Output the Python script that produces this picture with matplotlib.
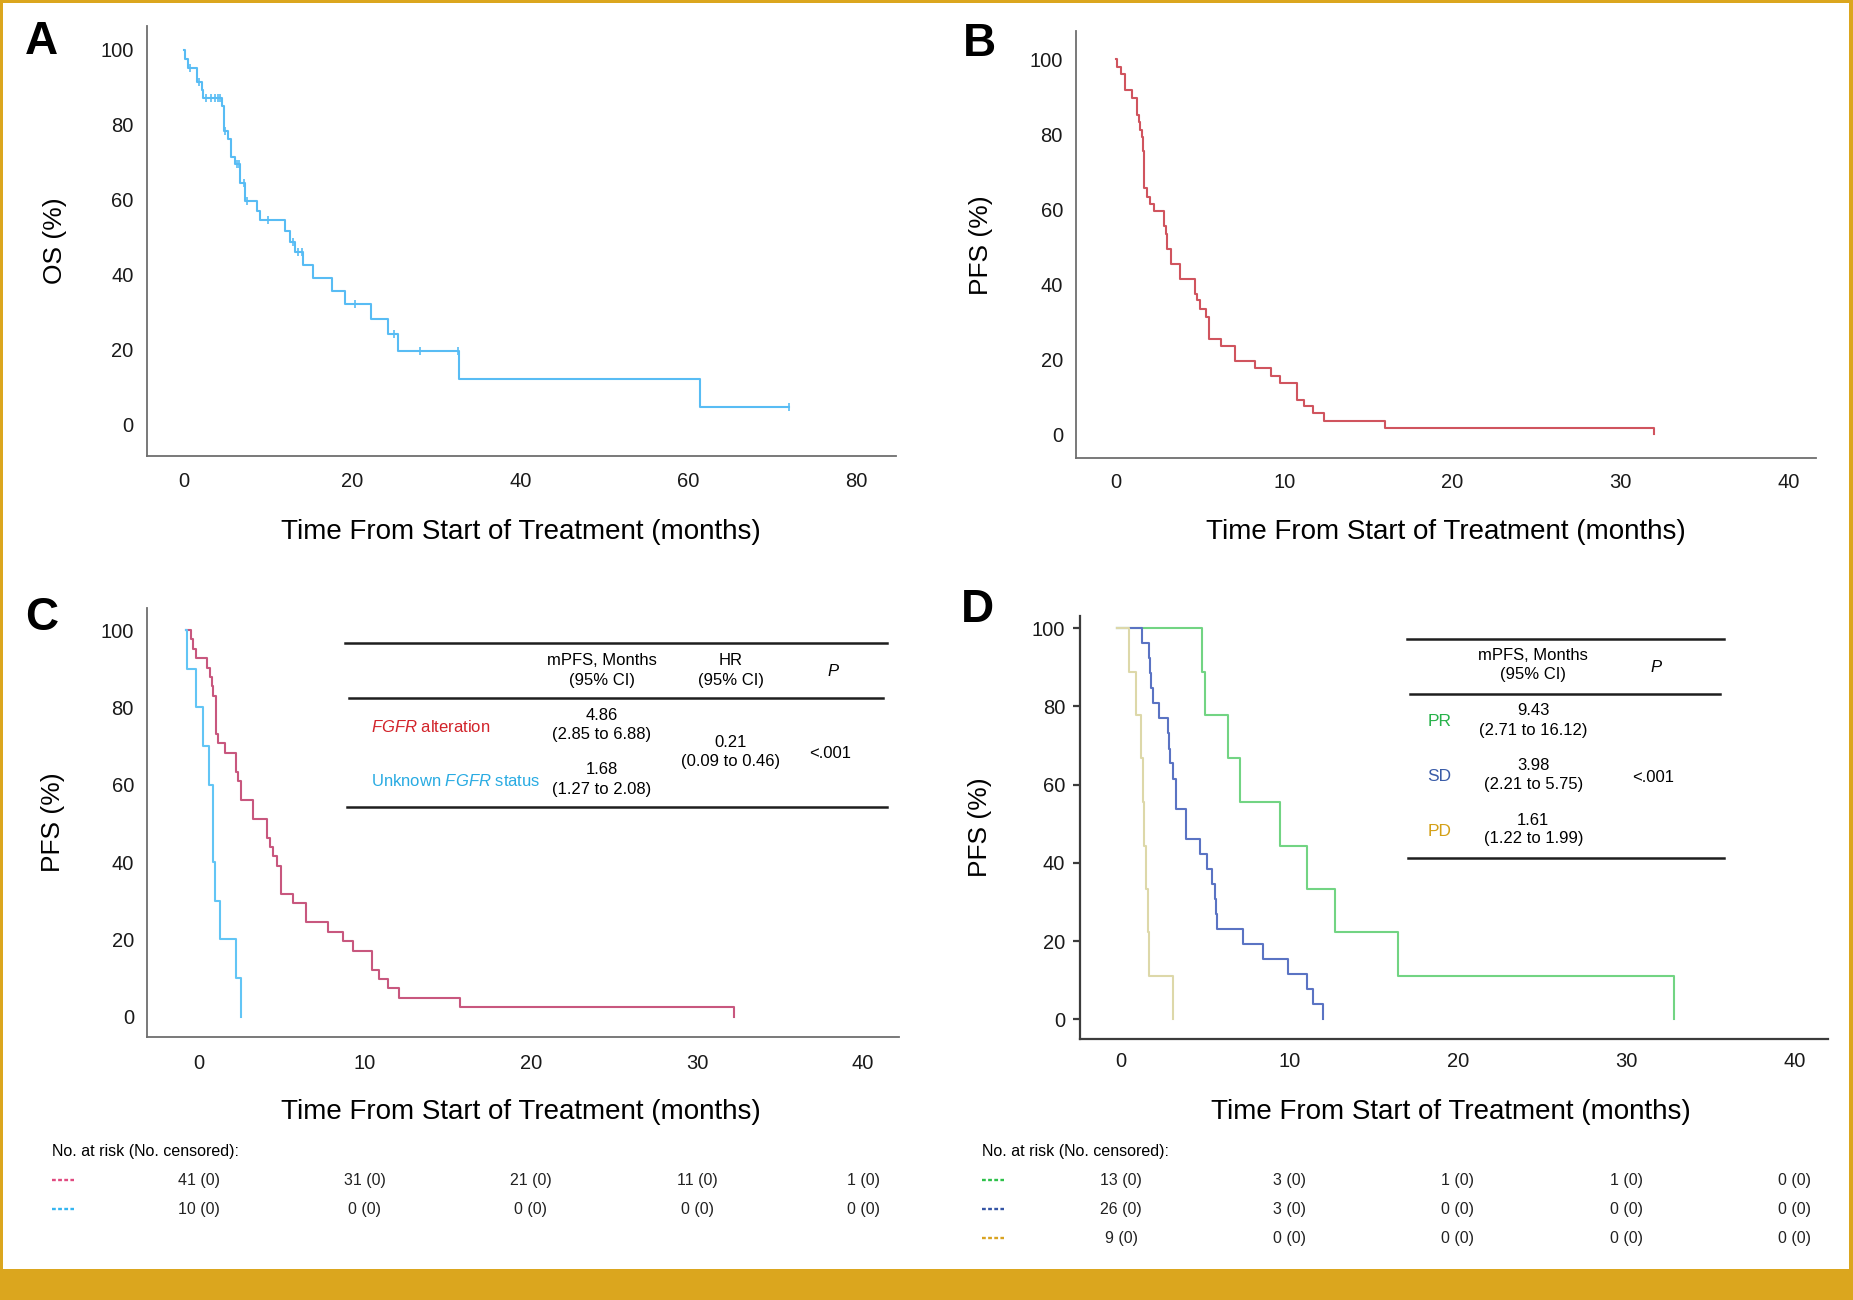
"""
Kaplan-Meier panels A-D (OS and PFS) redrawn with matplotlib
"""

import matplotlib
matplotlib.use("Agg")
import matplotlib.pyplot as plt
import matplotlib.transforms as mtransforms
from matplotlib.lines import Line2D
from matplotlib.patches import Rectangle

################################################################################
# --- DATA (step times in months, survival in %)
################################################################################
# A: overall survival
os_time = [0, 0.12, 0.5, 1.51, 2.1, 2.3, 4.48, 4.8, 5.27, 5.59, 6.06, 6.66,
           7.25, 8.72, 9.04, 12.0, 12.6, 13.2, 14.2, 15.4, 17.6, 19.1, 22.3,
           24.3, 25.5, 32.7, 61.4, 72.0]
os_surv = [100, 97.5, 95.0, 91.4, 89.2, 87.0, 85.0, 78.3, 76.0, 71.4, 69.4,
           64.5, 59.6, 56.9, 54.5, 51.6, 48.7, 46.0, 42.5, 38.9, 35.6, 32.0,
           28.2, 24.2, 19.6, 12.0, 4.5, 4.5]
os_censored = [0.7, 1.8, 2.6, 3.2, 3.7, 4.0, 4.3, 4.87, 6.26, 6.58, 7.13, 7.53,
               10.0, 13.0, 13.6, 14.0, 20.4, 25.0, 28.1, 32.6, 72.0]

# B: progression-free survival, all patients
pfs_time = [0, 0.04, 0.28, 0.54, 0.97, 1.27, 1.39, 1.45, 1.53, 1.59, 1.66,
            1.82, 2.0, 2.26, 2.85, 2.95, 3.05, 3.25, 3.8, 4.69, 4.83, 4.99,
            5.35, 5.55, 6.22, 7.05, 8.26, 9.19, 9.74, 10.77, 11.17, 11.72,
            12.36, 16.0, 32.0]
pfs_surv = [100, 98.0, 96.0, 91.8, 89.8, 85.1, 83.3, 81.1, 79.3, 75.7, 65.7,
            63.2, 61.3, 59.5, 55.5, 53.5, 49.5, 45.5, 41.4, 37.5, 35.9, 33.5,
            31.3, 25.5, 23.5, 19.5, 17.5, 15.5, 13.5, 9.2, 7.5, 5.5, 3.5, 1.5, 0]

# C: PFS by FGFR status
fgfr_time = [0, 0.28, 0.4, 0.6, 1.29, 1.45, 1.55, 1.65, 1.81, 1.95, 2.35, 3.01,
             3.15, 3.29, 4.02, 4.9, 5.06, 5.26, 5.5, 5.72, 6.47, 7.23, 8.57,
             9.48, 10.04, 11.18, 11.59, 12.13, 12.85, 16.5, 33.0]
fgfr_surv = [100, 97.6, 95.1, 92.7, 90.2, 87.8, 85.4, 82.9, 73.2, 70.7, 68.3,
             63.4, 61.0, 56.1, 51.2, 46.3, 43.9, 41.5, 39.0, 31.7, 29.3, 24.4,
             22.0, 19.5, 17.1, 12.2, 9.8, 7.3, 4.9, 2.4, 0]
unknown_time = [0, 0.08, 0.6, 1.04, 1.41, 1.61, 1.62, 1.75, 2.05, 3.01, 3.29]
unknown_surv = [100, 90, 80, 70, 60, 50, 40, 30, 20, 10, 0]

# D: PFS by best response
pr_time = [0, 5.03, 5.23, 6.61, 7.31, 9.69, 11.31, 12.95, 16.66, 33.1]
pr_surv = [100, 88.9, 77.8, 66.7, 55.6, 44.4, 33.3, 22.2, 11.1, 0]
sd_time = [0, 1.47, 1.92, 1.97, 2.02, 2.16, 2.51, 3.05, 3.08, 3.15, 3.31, 3.51,
           3.53, 4.10, 4.12, 4.93, 5.37, 5.62, 5.82, 5.85, 5.92, 7.47, 8.69,
           10.18, 11.27, 11.66, 12.22]
sd_surv = [100, 96.2, 92.3, 88.5, 84.6, 80.8, 76.9, 73.1, 69.2, 65.4, 61.5,
           57.7, 53.8, 50.0, 46.2, 42.3, 38.5, 34.6, 30.8, 26.9, 23.1, 19.2,
           15.4, 11.5, 7.7, 3.8, 0]
pd_time = [0, 0.73, 1.13, 1.41, 1.52, 1.62, 1.70, 1.82, 1.92, 3.31]
pd_surv = [100, 88.9, 77.8, 66.7, 55.6, 44.4, 33.3, 22.2, 11.1, 0]

# number at risk tables
risk_times = [0, 10, 20, 30, 40]
c_risk_fgfr = ["41 (0)", "31 (0)", "21 (0)", "11 (0)", "1 (0)"]
c_risk_unknown = ["10 (0)", "0 (0)", "0 (0)", "0 (0)", "0 (0)"]
d_risk_pr = ["13 (0)", "3 (0)", "1 (0)", "1 (0)", "0 (0)"]
d_risk_sd = ["26 (0)", "3 (0)", "0 (0)", "0 (0)", "0 (0)"]
d_risk_pd = ["9 (0)", "0 (0)", "0 (0)", "0 (0)", "0 (0)"]

# inset tables
c_rows = ["$\\it{FGFR}$ alteration", "Unknown $\\it{FGFR}$ status"]
c_mpfs = [("4.86", "(2.85 to 6.88)"), ("1.68", "(1.27 to 2.08)")]
c_hr = ("0.21", "(0.09 to 0.46)")
d_rows = ["PR", "SD", "PD"]
d_mpfs = [("9.43", "(2.71 to 16.12)"), ("3.98", "(2.21 to 5.75)"),
          ("1.61", "(1.22 to 1.99)")]
p_value = "<.001"

################################################################################
# --- STYLE
################################################################################
W, H, DPI = 1853, 1300, 100
GOLD = "#dba61e"
A_BLUE = "#58bcf4"
B_RED = "#d0545e"
C_RED = "#c8577e"
C_BLUE = "#62c5f5"
D_GREEN = "#72d483"
D_BLUE = "#5a73c3"
D_YELLOW = "#ddd8a9"

plt.rcParams["font.family"] = ["Liberation Sans", "DejaVu Sans"]
plt.rcParams["mathtext.fontset"] = "custom"
plt.rcParams["mathtext.rm"] = "Liberation Sans"
plt.rcParams["mathtext.it"] = "Liberation Sans:italic"


def px(x, y):
    """pixel position (origin top-left) -> figure fraction"""
    return x / W, 1 - y / H


def step_value(t, times, surv):
    val = surv[0]
    for ti, si in zip(times, surv):
        if ti <= t:
            val = si
    return val


def add_axes(box):
    x0, y0, x1, y1 = box
    ax = fig.add_axes([x0 / W, 1 - y1 / H, (x1 - x0) / W, (y1 - y0) / H])
    ax.set_facecolor("none")
    for s in ["top", "right"]:
        ax.spines[s].set_visible(False)
    return ax


def style_axes(ax, xlim, ylim, xticks, spine="#6e6e6e", lw=1.3, ylen=0,
               xpad=11.5, ypad=9.4):
    ax.set_xlim(*xlim)
    ax.set_ylim(*ylim)
    ax.set_xticks(xticks)
    ax.set_yticks([0, 20, 40, 60, 80, 100])
    for s in ["left", "bottom"]:
        ax.spines[s].set_color(spine)
        ax.spines[s].set_linewidth(lw)
    ax.tick_params(axis="x", length=0, pad=xpad, labelsize=14.5,
                   labelcolor="#1a1a1a")
    ax.tick_params(axis="y", length=ylen, width=lw, color=spine, pad=ypad,
                   labelsize=14.5, labelcolor="#1a1a1a")


def label_axes(ax, ylabel, xpos=0.5, xl_y=-0.175, yl_x=-0.125):
    ax.set_xlabel("Time From Start of Treatment (months)", fontsize=20)
    ax.xaxis.set_label_coords(xpos, xl_y)
    ax.xaxis.label.set_va("center")
    ax.set_ylabel(ylabel, fontsize=19)
    ax.yaxis.set_label_coords(yl_x, 0.5)
    ax.yaxis.label.set_va("center")


def shift_xticklabels(ax, dx):
    off = mtransforms.ScaledTranslation(dx / DPI, 0, fig.dpi_scale_trans)
    for lab in ax.get_xticklabels():
        lab.set_transform(lab.get_transform() + off)
    return off


def km(ax, times, surv, color):
    ax.step(times, surv, where="post", color=color, lw=1.5)


def ftext(x, y, s, **kw):
    fx, fy = px(x, y)
    kw.setdefault("ha", "center")
    kw.setdefault("va", "center")
    fig.text(fx, fy, s, **kw)


def hline(x0, x1, y, color="#1e1e1e", lw=1.8, ls="-"):
    (fx0, fy), (fx1, _) = px(x0, y), px(x1, y)
    fig.add_artist(Line2D([fx0, fx1], [fy, fy], transform=fig.transFigure,
                          color=color, lw=lw, ls=ls))


################################################################################
# --- FIGURE
################################################################################
fig = plt.figure(figsize=(W / DPI, H / DPI), dpi=DPI)
fig.patch.set_facecolor(GOLD)
fig.add_artist(Rectangle((3 / W, 1 - 1269 / H), 1846 / W, 1266 / H,
                         transform=fig.transFigure, facecolor="white",
                         edgecolor="none", zorder=-5))

# --- A
axA = add_axes((146.5, 26, 896, 456))
km(axA, os_time, os_surv, A_BLUE)
axA.plot(os_censored, [step_value(t, os_time, os_surv) for t in os_censored],
         ls="none", marker="|", ms=5.5, mew=1.2, color=A_BLUE)
style_axes(axA, (-4.46, 84.7), (-8.5, 106.3), [0, 20, 40, 60, 80])
label_axes(axA, "OS (%)", xl_y=-0.177, yl_x=-0.122)

# --- B
axB = add_axes((1076, 31.4, 1816, 458))
km(axB, pfs_time, pfs_surv, B_RED)
style_axes(axB, (-2.38, 41.6), (-6.4, 107.5), [0, 10, 20, 30, 40], xpad=10.5)
label_axes(axB, "PFS (%)", xl_y=-0.1735, yl_x=-0.128)

# --- C
axC = add_axes((147, 608, 898.6, 1037))
km(axC, fgfr_time, fgfr_surv, C_RED)
km(axC, unknown_time, unknown_surv, C_BLUE)
style_axes(axC, (-2.35, 42.9), (-5.25, 105.7), [0, 10, 20, 30, 40], xpad=12)
label_axes(axC, "PFS (%)", xpos=0.497, xl_y=-0.175, yl_x=-0.125)
offC = shift_xticklabels(axC, 12.7)

# --- D
axD = add_axes((1080, 616, 1827.6, 1039))
km(axD, pr_time, pr_surv, D_GREEN)
km(axD, sd_time, sd_surv, D_BLUE)
km(axD, pd_time, pd_surv, D_YELLOW)
style_axes(axD, (-2.2, 42.2), (-5.04, 103.1), [0, 10, 20, 30, 40],
           spine="#3c3c3c", lw=1.6, ylen=5, xpad=9.4, ypad=5.8)
label_axes(axD, "PFS (%)", xpos=0.496, xl_y=-0.1726, yl_x=-0.134)
offD = shift_xticklabels(axD, 4)

# panel letters
for letter, (x, y) in zip("ABCD", [(41.5, 42), (979, 44), (41.5, 618),
                                   (977, 610)]):
    ftext(x, y, letter, fontsize=33, fontweight="bold")

################################################################################
# --- INSET TABLES
################################################################################
TS = 12
# C
hline(345, 887, 642.7)
hline(349, 883, 697.7)
hline(347, 887, 806.7)
ftext(602, 660.7, "mPFS, Months", fontsize=TS)
ftext(602, 680, "(95% CI)", fontsize=TS)
ftext(730.7, 660.7, "HR", fontsize=TS)
ftext(730.7, 680, "(95% CI)", fontsize=TS)
ftext(833, 671.7, "P", fontsize=TS, fontstyle="italic")
for i, (lab, col, (med, ci)) in enumerate(zip(c_rows, ["#d2232a", "#29abe2"],
                                              c_mpfs)):
    ftext(370.7, 726.7 + 54 * i, lab, fontsize=TS, color=col, ha="left")
    ftext(602, 715.7 + 54.3 * i, med, fontsize=TS)
    ftext(602, 734.3 + 55 * i, ci, fontsize=TS)
ftext(730.7, 742.3, c_hr[0], fontsize=TS)
ftext(730.7, 761.7, c_hr[1], fontsize=TS)
ftext(830, 754, p_value, fontsize=TS)

# D
hline(1406.7, 1724, 639)
hline(1410, 1720, 694)
hline(1408, 1724, 857.7)
ftext(1533.3, 656, "mPFS, Months", fontsize=TS)
ftext(1533.3, 675, "(95% CI)", fontsize=TS)
ftext(1656, 667, "P", fontsize=TS, fontstyle="italic")
for i, (lab, col, (med, ci)) in enumerate(zip(d_rows, ["#27b24a", "#3a5ca8",
                                                       "#d4a017"], d_mpfs)):
    ftext(1439.3, 722 + 54.8 * i, lab, fontsize=12.5, color=col)
    ftext(1533.3, 710.7 + 54.7 * i, med, fontsize=TS)
    ftext(1533.3, 730 + 54.5 * i, ci, fontsize=TS)
ftext(1653, 777, p_value, fontsize=TS)

################################################################################
# --- NUMBER AT RISK
################################################################################
RS = 11.5
DASH = (0, (1.6, 1.0))

ftext(52, 1151.7, "No. at risk (No. censored):", fontsize=RS, ha="left")
transC = mtransforms.blended_transform_factory(axC.transData,
                                               fig.transFigure) + offC
for row, col, y in [(c_risk_fgfr, "#e04a80", 1180),
                    (c_risk_unknown, "#35b5f0", 1209.3)]:
    hline(52, 74, y, color=col, lw=1.7, ls=DASH)
    for t, s in zip(risk_times, row):
        fig.text(t, 1 - y / H, s, transform=transC, fontsize=RS,
                 ha="center", va="center", color="#222222")

ftext(981.8, 1151.7, "No. at risk (No. censored):", fontsize=RS, ha="left")
transD = mtransforms.blended_transform_factory(axD.transData,
                                               fig.transFigure) + offD
for row, col, y in [(d_risk_pr, "#2ec14a", 1180),
                    (d_risk_sd, "#3555a5", 1209.3),
                    (d_risk_pd, "#d9a321", 1238.3)]:
    hline(982, 1004, y, color=col, lw=1.7, ls=DASH)
    for t, s in zip(risk_times, row):
        fig.text(t, 1 - y / H, s, transform=transD, fontsize=RS,
                 ha="center", va="center", color="#222222")

fig.savefig("out.png", dpi=DPI, facecolor=fig.get_facecolor())
